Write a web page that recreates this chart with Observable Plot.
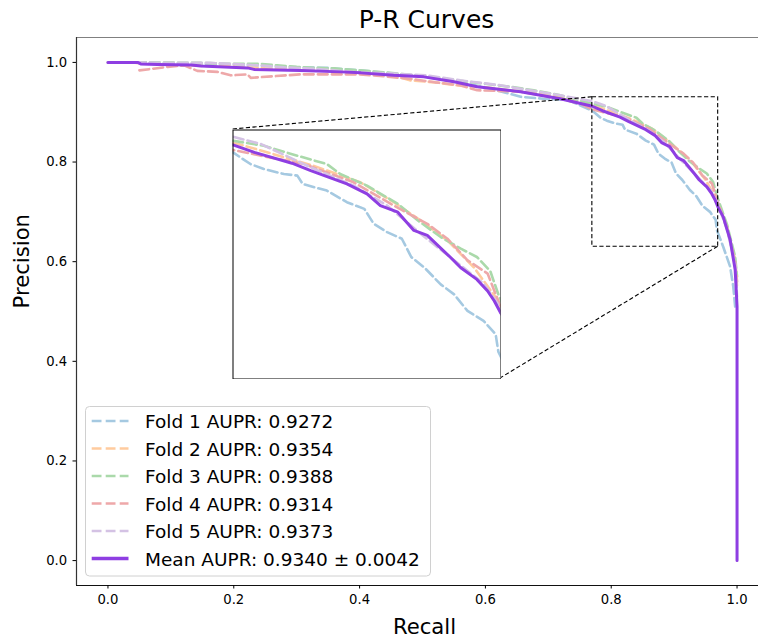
<!DOCTYPE html>
<html>
<head>
<meta charset="utf-8">
<script src="https://cdn.jsdelivr.net/npm/d3@7"></script>
<script src="https://cdn.jsdelivr.net/npm/@observablehq/plot@0.6"></script>
<style>
  body { margin: 0; background: #fff; }
  #wrap { position: relative; width: 758px; height: 639px; overflow: hidden; font-family: "DejaVu Sans", sans-serif; }
  #inset { position: absolute; overflow: hidden; background: #fff; }
</style>
</head>
<body>
<div id="wrap"><div id="inset"></div></div>
<script>
// ---------------- data ----------------
const titleText = "P-R Curves";
const xLabel = "Recall";
const yLabel = "Precision";
const xTicks = [0.0, 0.2, 0.4, 0.6, 0.8, 1.0];
const yTicks = [0.0, 0.2, 0.4, 0.6, 0.8, 1.0];

const foldNames = ["Fold 1", "Fold 2", "Fold 3", "Fold 4", "Fold 5"];
const foldAupr = ["0.9272", "0.9354", "0.9388", "0.9314", "0.9373"];
const meanAupr = "0.9340";
const stdAupr = "0.0042";
const foldColors = ["#a5c9e1", "#ffcb9e", "#aad9aa", "#eea8a9", "#d4c2e4"];
const meanColor = "#8e3ee2";

const fold1Recall = [0, 0.05, 0.10, 0.15, 0.20, 0.25, 0.30, 0.35, 0.40, 0.45, 0.50, 0.55, 0.60, 0.656, 0.692, 0.73, 0.77, 0.783, 0.793, 0.808, 0.818, 0.822, 0.840, 0.855, 0.868, 0.875, 0.885, 0.896, 0.903, 0.913, 0.925, 0.935, 0.945, 0.957, 0.966, 0.968, 0.978, 0.989, 0.994, 0.997];
const fold1Precision = [1.0, 1.0, 0.998, 0.997, 0.996, 0.993, 0.990, 0.989, 0.984, 0.978, 0.972, 0.962, 0.950, 0.931, 0.927, 0.925, 0.903, 0.889, 0.883, 0.877, 0.875, 0.865, 0.857, 0.843, 0.835, 0.817, 0.807, 0.799, 0.777, 0.764, 0.744, 0.732, 0.712, 0.700, 0.684, 0.663, 0.630, 0.590, 0.550, 0.510];

const fold2Recall = [0, 0.05, 0.10, 0.15, 0.20, 0.25, 0.30, 0.35, 0.40, 0.45, 0.48, 0.52, 0.56, 0.60, 0.64, 0.68, 0.72, 0.77, 0.80, 0.83, 0.865, 0.89, 0.91, 0.93, 0.95, 0.968, 0.984, 0.997, 1.0];
const fold2Precision = [1.0, 0.999, 0.996, 0.993, 0.992, 0.988, 0.987, 0.985, 0.981, 0.975, 0.964, 0.960, 0.953, 0.950, 0.944, 0.938, 0.930, 0.915, 0.901, 0.887, 0.867, 0.843, 0.821, 0.797, 0.764, 0.724, 0.670, 0.604, 0.55];

const fold3Recall = [0, 0.06, 0.148, 0.20, 0.243, 0.269, 0.30, 0.333, 0.36, 0.40, 0.44, 0.48, 0.52, 0.56, 0.60, 0.64, 0.677, 0.719, 0.77, 0.793, 0.818, 0.840, 0.850, 0.870, 0.893, 0.908, 0.925, 0.940, 0.952, 0.962, 0.968, 0.984, 0.997, 1.0];
const fold3Precision = [1.0, 1.0, 0.999, 0.997, 0.997, 0.994, 0.991, 0.989, 0.988, 0.984, 0.980, 0.975, 0.970, 0.963, 0.957, 0.951, 0.944, 0.934, 0.917, 0.911, 0.899, 0.889, 0.877, 0.863, 0.841, 0.821, 0.801, 0.787, 0.777, 0.760, 0.732, 0.675, 0.610, 0.57];

const fold4Recall = [0.05, 0.095, 0.121, 0.142, 0.174, 0.195, 0.222, 0.227, 0.283, 0.306, 0.37, 0.40, 0.44, 0.481, 0.52, 0.56, 0.587, 0.62, 0.656, 0.719, 0.751, 0.77, 0.791, 0.823, 0.860, 0.890, 0.915, 0.930, 0.945, 0.960, 0.968, 0.984, 0.997, 1.0];
const fold4Precision = [0.984, 0.991, 0.994, 0.983, 0.981, 0.974, 0.976, 0.969, 0.974, 0.976, 0.976, 0.976, 0.972, 0.967, 0.960, 0.954, 0.944, 0.943, 0.941, 0.927, 0.917, 0.906, 0.899, 0.889, 0.867, 0.839, 0.817, 0.799, 0.773, 0.757, 0.724, 0.668, 0.600, 0.56];

const fold5Recall = [0, 0.05, 0.10, 0.163, 0.24, 0.28, 0.33, 0.40, 0.45, 0.507, 0.56, 0.624, 0.656, 0.719, 0.77, 0.791, 0.828, 0.860, 0.885, 0.910, 0.935, 0.957, 0.968, 0.984, 0.997, 1.0];
const fold5Precision = [1.0, 1.0, 0.999, 0.999, 0.994, 0.990, 0.987, 0.980, 0.978, 0.974, 0.964, 0.954, 0.947, 0.934, 0.922, 0.913, 0.885, 0.863, 0.839, 0.805, 0.773, 0.745, 0.720, 0.665, 0.595, 0.53];

const meanRecall = [0, 0.047, 0.052, 0.079, 0.132, 0.148, 0.222, 0.232, 0.306, 0.37, 0.402, 0.454, 0.502, 0.55, 0.587, 0.656, 0.719, 0.77, 0.786, 0.814, 0.828, 0.855, 0.870, 0.880, 0.893, 0.905, 0.915, 0.932, 0.940, 0.952, 0.960, 0.965, 0.970, 0.978, 0.989, 0.997, 1.0, 1.0];
const meanPrecision = [1.0, 1.0, 0.997, 0.996, 0.995, 0.993, 0.989, 0.986, 0.984, 0.981, 0.979, 0.974, 0.971, 0.961, 0.951, 0.941, 0.927, 0.912, 0.903, 0.890, 0.881, 0.865, 0.853, 0.839, 0.831, 0.809, 0.803, 0.777, 0.764, 0.750, 0.736, 0.724, 0.709, 0.690, 0.644, 0.584, 0.51, 0.0];

// zoomed region shown in the inset
const zoomX = [0.77, 0.97];
const zoomY = [0.63, 0.93];

// ---------------- build tables ----------------
const foldRecalls = [fold1Recall, fold2Recall, fold3Recall, fold4Recall, fold5Recall];
const foldPrecisions = [fold1Precision, fold2Precision, fold3Precision, fold4Precision, fold5Precision];
const folds = foldNames.map((name, i) => ({
  name, color: foldColors[i],
  label: `${name} AUPR: ${foldAupr[i]}`,
  rows: foldRecalls[i].map((r, j) => ({recall: r, precision: foldPrecisions[i][j]}))
}));
const meanRows = meanRecall.map((r, j) => ({recall: r, precision: meanPrecision[j]}));
const meanLabel = `Mean AUPR: ${meanAupr} \u00b1 ${stdAupr}`;

const dash = "9.8,4.2";
const foldWidth = 2.6, meanWidth = 3.0;

function curveMarks(extra = {}) {
  return [
    ...folds.map(f => Plot.line(f.rows, {x: "recall", y: "precision", stroke: f.color, strokeWidth: foldWidth, strokeDasharray: dash, ...extra})),
    Plot.line(meanRows, {x: "recall", y: "precision", stroke: meanColor, strokeWidth: meanWidth, ...extra})
  ];
}

// ---------------- main plot ----------------
const W = 758, H = 639;
const mL = 76, mT = 37, mB = 54;
const xDomain = [-0.05, 1.05];
const yDomain = [-0.05, 1.05];
const fmt = d3.format(".1f");

const main = Plot.plot({
  width: W, height: H,
  marginLeft: mL, marginRight: 0, marginTop: mT, marginBottom: mB,
  style: {fontFamily: "DejaVu Sans", fontSize: "13.2px", background: "white", color: "black"},
  x: {domain: xDomain, range: [mL, 768]},
  y: {domain: yDomain},
  marks: [
    ...curveMarks(),
    Plot.rect([{x1: zoomX[0], x2: zoomX[1], y1: zoomY[0], y2: zoomY[1]}], {x1: "x1", x2: "x2", y1: "y1", y2: "y2", fill: "none", stroke: "black", strokeWidth: 1.1, strokeDasharray: "4.2,2.4"}),
    Plot.ruleY([yDomain[1]], {stroke: "#808080", strokeWidth: 1.2}),
    Plot.ruleX([xDomain[0]], {stroke: "#333", strokeWidth: 1.2}),
    Plot.ruleY([yDomain[0]], {stroke: "#111", strokeWidth: 1.2}),
    Plot.axisX({ticks: xTicks, tickFormat: fmt, tickSize: 3.5, tickPadding: 5.7, label: null, fontSize: 13.2}),
    Plot.axisY({ticks: yTicks, tickFormat: fmt, tickSize: 3.5, tickPadding: 5.8, label: null, fontSize: 13.2}),
    Plot.text([titleText], {frameAnchor: "top", lineAnchor: "middle", dy: -17.3, dx: 9, fontSize: 25, fill: "black"}),
    Plot.text([xLabel], {frameAnchor: "bottom", lineAnchor: "middle", dy: 41.8, dx: 7, fontSize: 21.2, fill: "black"}),
    Plot.text([yLabel], {frameAnchor: "left", lineAnchor: "middle", rotate: -90, dx: -53.8, dy: -3, fontSize: 21.2, fill: "black"})
  ]
});
document.getElementById("wrap").prepend(main);

// ---------------- inset ----------------
const inset = {left: 232, top: 129, width: 268, height: 249};
const insetPlot = Plot.plot({
  width: inset.width + 1, height: inset.height + 1,
  margin: 0.5,
  style: {background: "white"},
  x: {domain: zoomX, axis: null},
  y: {domain: zoomY, axis: null},
  marks: [
    ...curveMarks({clip: true}),
    Plot.frame({stroke: "black", strokeWidth: 1})
  ]
});
const insetDiv = document.getElementById("inset");
insetDiv.style.left = (inset.left - 0.5) + "px";
insetDiv.style.top = (inset.top - 0.5) + "px";
insetDiv.style.width = (inset.width + 1) + "px";
insetDiv.style.height = (inset.height + 1) + "px";
insetDiv.appendChild(insetPlot);

// connectors (mark_inset style) + legend, in main svg
const sx = main.scale("x"), sy = main.scale("y");
const svg = d3.select(main);
const conn = [
  [sx.apply(zoomX[0]), sy.apply(zoomY[1]), inset.left, inset.top],
  [sx.apply(zoomX[1]), sy.apply(zoomY[0]), inset.left + inset.width, inset.top + inset.height]
];
svg.append("g").selectAll("line").data(conn).join("line")
  .attr("x1", d => d[0]).attr("y1", d => d[1]).attr("x2", d => d[2]).attr("y2", d => d[3])
  .attr("stroke", "black").attr("stroke-width", 1.1).attr("stroke-dasharray", "4.2,2.4");

// legend
const legendItems = [
  ...folds.map(f => ({label: f.label, color: f.color, dash: dash, width: foldWidth})),
  {label: meanLabel, color: meanColor, dash: null, width: 3.3}
];
const lg = svg.append("g").attr("font-family", "DejaVu Sans").attr("font-size", 18.5).attr("text-anchor", "start");
lg.append("rect").attr("x", 85.5).attr("y", 406.5).attr("width", 345).attr("height", 169.5)
  .attr("rx", 4).attr("fill", "rgba(255,255,255,0.8)").attr("stroke", "#d0d0d0").attr("stroke-width", 1);
legendItems.forEach((it, i) => {
  const cy = 421 + i * 27.5;
  const l = lg.append("line").attr("x1", 91.7).attr("x2", 128.5).attr("y1", cy).attr("y2", cy)
    .attr("stroke", it.color).attr("stroke-width", it.width);
  if (it.dash) l.attr("stroke-dasharray", it.dash);
  lg.append("text").attr("x", 145).attr("y", cy + 7).attr("text-anchor", "start").attr("fill", "black").text(it.label);
});
</script>
</body>
</html>
